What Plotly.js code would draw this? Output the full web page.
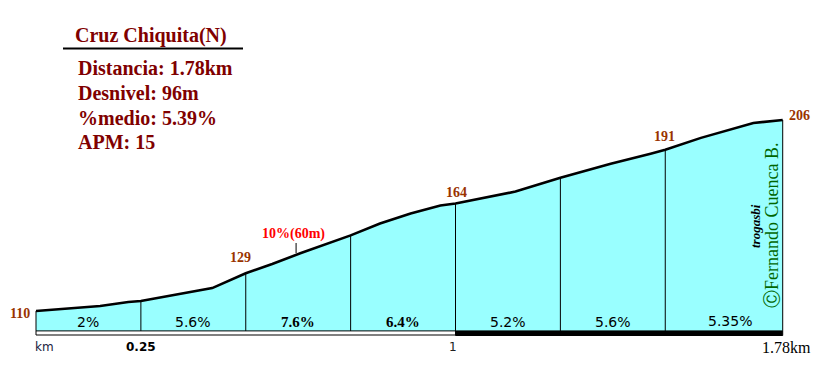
<!DOCTYPE html>
<html>
<head>
<meta charset="utf-8">
<script src="https://cdn.plot.ly/plotly-3.0.1.min.js"></script>
<style>html,body{margin:0;padding:0;background:#fff;}#chart{width:825px;height:368px;}</style>
</head>
<body>
<div id="chart"></div>
<script>
// ---- data ----
const profKm   = [0, 0.153, 0.22, 0.25, 0.42, 0.5, 0.563, 0.63, 0.75, 0.82, 0.893, 0.964, 1.0, 1.143, 1.25, 1.37, 1.465, 1.5, 1.585, 1.71, 1.78];
const profElev = [110, 112.5, 114.5, 115, 121.5, 129, 133.6, 139, 148, 154, 159, 163, 164, 170, 177, 184, 189, 191, 197, 204.5, 206];
const segKm    = [0, 0.25, 0.5, 0.75, 1, 1.25, 1.5, 1.78];
const segElev  = [110, 115, 129, 148, 164, 177, 191, 206];
const segPct   = ["2%", "5.6%", "7.6%", "6.4%", "5.2%", "5.6%", "5.35%"];
const markKm   = [0, 0.5, 1, 1.5, 1.78];
const markElev = [110, 129, 164, 191, 206];
const kmTicks  = [0, 0.25, 1, 1.78];
const kmLabels = ["km", "0.25", "1", "1.78km"];
const peakKm = 0.62, peakLabel = "10%(60m)";
const baseElev = 100;
const titleText = "Cruz Chiquita(N)";
const stats = ["Distancia: 1.78km", "Desnivel: 96m", "%medio: 5.39%", "APM: 15"];

// ---- pixel helpers for layout placement ----
const W = 825, H = 368;
const kPx = 419.5, mPx = 1.99;
const X = px => (px - 36) / kPx;
const Y = py => 110 + (311 - py) / mPx;
const PX = px => px / W, PY = py => 1 - py / H;

const SERIF = "Liberation Serif, Times New Roman, serif";
const SANS = "DejaVu Sans, Verdana, sans-serif";
const MAROON = "#800000", BROWN = "#993300";

// vertical dividers
const divX = [], divY = [];
segKm.forEach((k, i) => { divX.push(k, k, null); divY.push(baseElev, segElev[i], null); });

const traces = [
  {x: [segKm[0], segKm[segKm.length - 1]], y: [baseElev, baseElev], mode: 'lines', line: {width: 0, color: 'rgba(0,0,0,0)'}, hoverinfo: 'skip', showlegend: false},
  {x: profKm, y: profElev, mode: 'lines', fill: 'tonexty', fillcolor: '#99FFFF', line: {color: '#000', width: 2.6}, hoverinfo: 'skip', showlegend: false},
  {x: divX, y: divY, mode: 'lines', line: {color: '#000', width: 1}, hoverinfo: 'skip', showlegend: false},
  {x: [peakKm, peakKm], y: [Y(253), Y(243)], mode: 'lines', line: {color: '#000', width: 1}, hoverinfo: 'skip', showlegend: false}
];

const ann = [];
// title & stats
ann.push({xref: 'paper', yref: 'paper', x: PX(73), y: PY(35), xanchor: 'left', yanchor: 'middle', text: '<b>' + titleText + '</b>', showarrow: false, font: {family: SERIF, size: 20, color: MAROON}});
const statY = [68, 93, 117.5, 142];
stats.forEach((s, i) => ann.push({xref: 'paper', yref: 'paper', x: PX(76), y: PY(statY[i]), xanchor: 'left', yanchor: 'middle', text: '<b>' + s + '</b>', showarrow: false, font: {family: SERIF, size: 20, color: MAROON}}));

// segment percentages
segPct.forEach((p, i) => {
  const mid = (segKm[i] + segKm[i + 1]) / 2;
  const serif = (p === "7.6%" || p === "6.4%");
  ann.push({xref: 'x', yref: 'y', x: mid, y: Y(i === 6 ? 321 : 322), xanchor: 'center', yanchor: 'middle', xshift: i === 6 ? 6 : 0,
    text: serif ? '<b>' + p + '</b>' : p, showarrow: false,
    font: {family: serif ? SERIF : SANS, size: serif ? 15 : 14, color: '#000'}});
});

// elevation marks
const markDx = [-4, -5, 1, -1, 4];
const markDy = [-2, 13, 9, 11, 4];
markKm.forEach((k, i) => {
  const first = i === 0, last = i === markKm.length - 1;
  ann.push({xref: 'x', yref: 'y', x: k, y: markElev[i], xanchor: first ? 'right' : (last ? 'left' : 'center'),
    yanchor: (first || last) ? 'middle' : 'bottom', xshift: markDx[i], yshift: (first || last) ? markDy[i] : markDy[i] - 7,
    text: '<b>' + markElev[i] + '</b>', showarrow: false, font: {family: SERIF, size: 14, color: BROWN}});
});

// peak label
ann.push({xref: 'x', yref: 'paper', x: peakKm, y: PY(234), xshift: -3, xanchor: 'center', yanchor: 'middle', text: '<b>' + peakLabel + '</b>', showarrow: false, font: {family: SERIF, size: 14, color: '#FF0000'}});

// km labels
const kmFont = [
  {family: SANS, size: 12, color: '#202040'},
  {family: SANS, size: 12, color: '#000'},
  {family: SANS, size: 12, color: '#202020'},
  {family: SERIF, size: 16, color: '#000'}
];
kmTicks.forEach((k, i) => {
  const lbl = i === 1 ? '<b>' + kmLabels[i] + '</b>' : kmLabels[i];
  ann.push({xref: 'x', yref: 'paper', x: k, y: PY(347), xanchor: i === 0 ? 'left' : 'center', xshift: i === 0 ? -3 : (i === 2 ? -3 : (i === 3 ? 4 : 0)),
    yanchor: 'middle', text: lbl, showarrow: false, font: kmFont[i]});
});

// credits
ann.push({xref: 'paper', yref: 'paper', x: PX(772), y: PY(226), xanchor: 'center', yanchor: 'middle', textangle: -90, text: 'ⒸFernando Cuenca B.', showarrow: false, font: {family: SERIF, size: 18, color: '#006600'}});
ann.push({xref: 'paper', yref: 'paper', x: PX(756), y: PY(226), xanchor: 'center', yanchor: 'middle', textangle: -90, text: '<b><i>trogasbi</i></b>', showarrow: false, font: {family: SERIF, size: 13, color: '#000'}});

const shapes = [
  {type: 'line', xref: 'paper', yref: 'paper', x0: PX(63), x1: PX(243), y0: PY(48.5), y1: PY(48.5), line: {color: '#000', width: 2}},
  {type: 'rect', xref: 'x', yref: 'y', x0: 0, x1: 1, y0: Y(335), y1: baseElev, fillcolor: '#fff', line: {color: '#000', width: 1}},
  {type: 'rect', xref: 'x', yref: 'y', x0: 1, x1: 1.78, y0: Y(335.5), y1: baseElev, fillcolor: '#000', line: {color: '#000', width: 1}}
];

const layout = {
  width: W, height: H,
  margin: {l: 0, r: 0, t: 0, b: 0, pad: 0},
  paper_bgcolor: '#fff', plot_bgcolor: '#fff',
  xaxis: {range: [X(0), X(W)], visible: false, fixedrange: true},
  yaxis: {range: [Y(H), Y(0)], visible: false, fixedrange: true},
  showlegend: false,
  annotations: ann,
  shapes: shapes
};

Plotly.newPlot('chart', traces, layout, {staticPlot: true, displayModeBar: false});
</script>
</body>
</html>
